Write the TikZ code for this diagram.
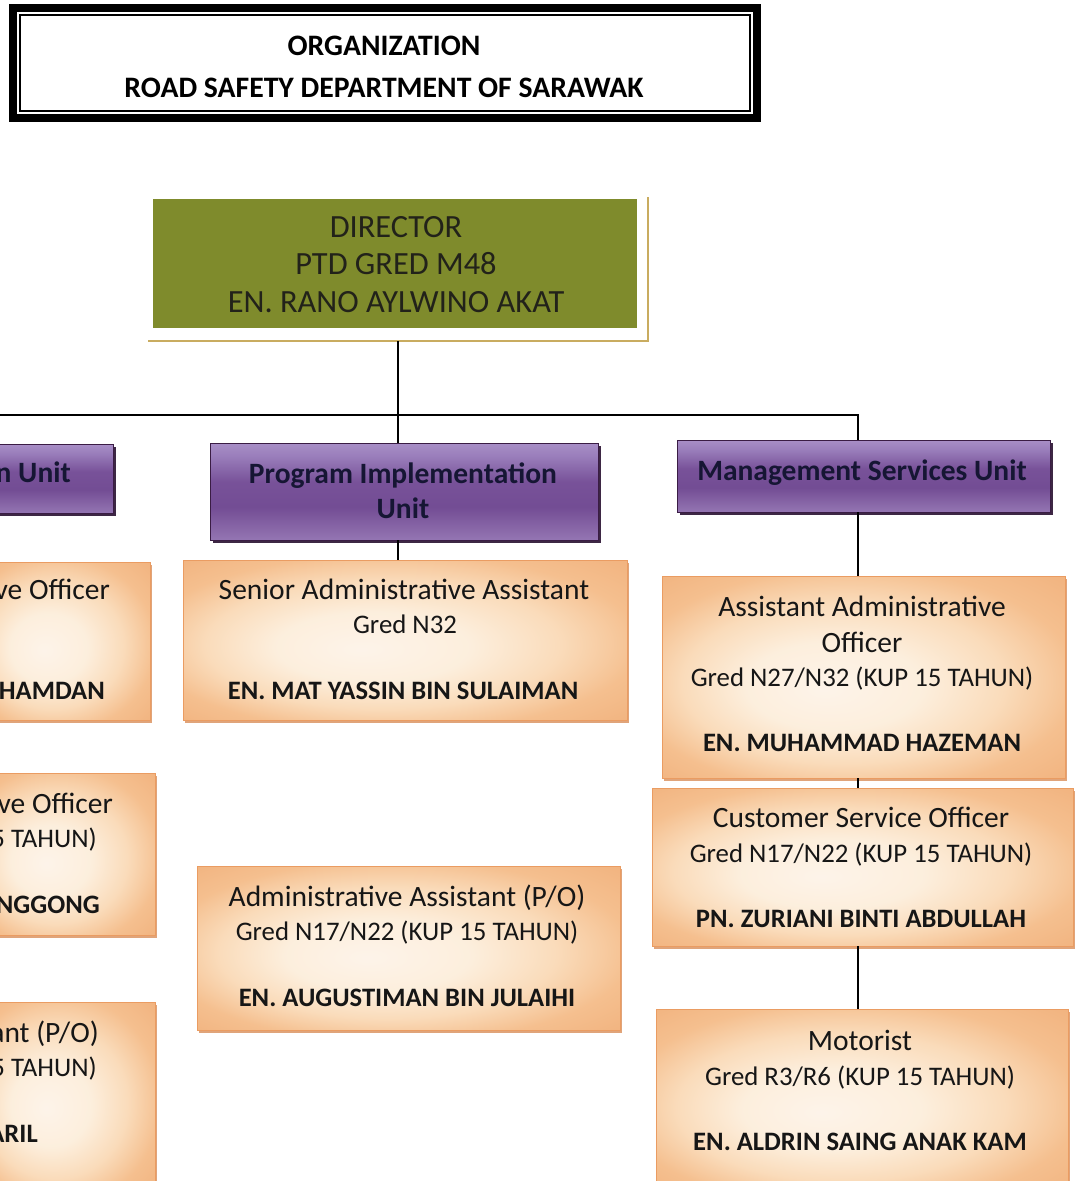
\documentclass[tikz,border=0pt]{standalone}
\usepackage{fontspec}
\setmainfont{Carlito}
\usetikzlibrary{shadows,calc}
\definecolor{dirgreen}{RGB}{127,139,44}
\definecolor{gold}{RGB}{201,172,96}
\definecolor{cardedge}{RGB}{234,156,98}
\definecolor{cardshadow}{RGB}{214,134,78}
\definecolor{unitedge}{RGB}{58,28,68}
\definecolor{unitshadow}{RGB}{40,16,48}
\definecolor{unittext}{RGB}{22,22,52}
\definecolor{ink}{RGB}{22,22,22}
\definecolor{dirink}{RGB}{34,34,26}
\pgfdeclareradialshading{cardshade}{\pgfpoint{-5bp}{-3bp}}{rgb(0bp)=(0.992,0.955,0.915); rgb(11bp)=(0.99,0.935,0.865); rgb(20bp)=(0.98,0.86,0.73); rgb(28bp)=(0.96,0.75,0.56); rgb(40bp)=(0.94,0.68,0.47)}
\pgfdeclareverticalshading{unitshade}{100bp}{rgb(0bp)=(0.58,0.46,0.70); rgb(25bp)=(0.58,0.46,0.70); rgb(42bp)=(0.45,0.30,0.58); rgb(55bp)=(0.47,0.32,0.60); rgb(68bp)=(0.60,0.49,0.73); rgb(75bp)=(0.66,0.56,0.78); rgb(100bp)=(0.66,0.56,0.78)}
\tikzset{
  box/.style={anchor=north west, inner sep=0pt, outer sep=0pt},
  card/.style={box, shade, shading=cardshade, draw=cardedge, line width=0.8pt,
    drop shadow={shadow xshift=2pt, shadow yshift=-2.5pt, fill=cardshadow, opacity=0.75}},
  unitbox/.style={box, shade, shading=unitshade, draw=unitedge, line width=0.8pt,
    drop shadow={shadow xshift=3pt, shadow yshift=-3pt, fill=unitshadow, opacity=0.9}},
  dirbox/.style={box, fill=dirgreen},
  tone/.style={anchor=mid, yshift=-7pt, font=\fontsize{29.5}{34}\selectfont, text=ink, inner sep=0pt},
  ttwo/.style={tone, font=\fontsize{26.8}{31}\selectfont},
  tname/.style={tone, font=\fontsize{26.6}{31}\selectfont\bfseries},
  tunit/.style={anchor=mid, yshift=-7pt, font=\fontsize{29.5}{34}\selectfont\bfseries, text=unittext, inner sep=0pt},
  tdir/.style={anchor=mid, yshift=-7pt, font=\fontsize{32.4}{37}\selectfont, text=dirink, inner sep=0pt},
  ttitle/.style={anchor=mid, yshift=-7pt, font=\fontsize{29.7}{34}\selectfont\bfseries, text=black, inner sep=0pt},
  conn/.style={draw=black, line width=1.4pt},
}
\begin{document}
\begin{tikzpicture}[x=1pt,y=-1pt]
\useasboundingbox (0,0) rectangle (1078,1181);
\clip (0,0) rectangle (1078,1181);
\fill[white] (0,0) rectangle (1078,1181);

% title
\node[box, fill=black, minimum width=752pt, minimum height=118pt] (titleouter) at (9,4) {};
\node[box, fill=white, minimum width=736pt, minimum height=102pt] (titleinner) at (17,12) {};
\node[box, draw=black, line width=1.6pt, minimum width=730pt, minimum height=96pt] (titleline) at (20,15) {};
\node[ttitle] (title1) at (384,46) {ORGANIZATION};
\node[ttitle] (title2) at (384,88) {ROAD SAFETY DEPARTMENT OF SARAWAK};

% hub coordinates
\coordinate (hubL) at (0,415);
\coordinate (trunk) at (398,415);
\coordinate (msux) at (858,415);

% director
\node[dirbox, minimum width=484pt, minimum height=129pt] (dir) at (153,199) {};
\coordinate (goldA) at (148,341);
\coordinate (goldB) at (648,341);
\coordinate (goldC) at (648,197);
\draw[gold, line width=2pt] (goldA) -- (goldB) -- (goldC);
\node[tdir] (dir1) at (396,228) {DIRECTOR};
\node[tdir] (dir2) at (396,265) {PTD GRED M48};
\node[tdir] (dir3) at (396,303) {EN. RANO AYLWINO AKAT};

% units
\node[unitbox, minimum width=140pt, minimum height=69pt] (unitL) at (-27,444) {};
\node[tunit, anchor=mid east] (unitLt) at (71,473) {n Unit};
\node[unitbox, minimum width=388pt, minimum height=97pt] (piu) at (210,443) {};
\node[tunit] (piu1) at (403,474) {Program Implementation};
\node[tunit] (piu2) at (403,509) {Unit};
\node[unitbox, minimum width=373pt, minimum height=72pt] (msu) at (677,440) {};
\node[tunit] (msu1) at (862,471) {Management Services Unit};

% cards: program implementation
\node[card, minimum width=444pt, minimum height=160pt] (sa) at (183,560) {};
\node[tone] (sa1) at (404,590) {Senior Administrative Assistant};
\node[ttwo] (sa2) at (405,624) {Gred N32};
\node[tname] (sa3) at (403,690) {EN. MAT YASSIN BIN SULAIMAN};

\node[card, minimum width=423pt, minimum height=164pt] (aa) at (197,866) {};
\node[tone] (aa1) at (407,897) {Administrative Assistant (P/O)};
\node[ttwo] (aa2) at (407,931) {Gred N17/N22 (KUP 15 TAHUN)};
\node[tname] (aa3) at (407,997) {EN. AUGUSTIMAN BIN JULAIHI};

% cards: management services
\node[card, minimum width=403pt, minimum height=202pt] (ma) at (662,576) {};
\node[tone] (ma1) at (862,607) {Assistant Administrative};
\node[tone] (ma2) at (862,643) {Officer};
\node[ttwo] (ma3) at (862,677) {Gred N27/N32 (KUP 15 TAHUN)};
\node[tname] (ma4) at (862,742) {EN. MUHAMMAD HAZEMAN};

\node[card, minimum width=421pt, minimum height=158pt] (mb) at (652,788) {};
\node[tone] (mb1) at (861,818) {Customer Service Officer};
\node[ttwo] (mb2) at (861,853) {Gred N17/N22 (KUP 15 TAHUN)};
\node[tname] (mb3) at (861,918) {PN. ZURIANI BINTI ABDULLAH};

\node[card, minimum width=412pt, minimum height=185pt] (mc) at (656,1009) {};
\node[tone] (mc1) at (860,1041) {Motorist};
\node[ttwo] (mc2) at (860,1076) {Gred R3/R6 (KUP 15 TAHUN)};
\node[tname] (mc3) at (860,1141) {EN. ALDRIN SAING ANAK KAM};

% cards: left column (cut off by the picture's edge)
\node[card, minimum width=177pt, minimum height=158pt] (la) at (-27,562) {};
\node[tone, anchor=mid east] (la1) at (110,590) {ve Officer};
\node[tname, anchor=mid east] (la2) at (105,690) {HAMDAN};

\node[card, minimum width=182pt, minimum height=162pt] (lb) at (-27,773) {};
\node[tone, anchor=mid east] (lb1) at (113,804) {ve Officer};
\node[ttwo, anchor=mid east] (lb2) at (97,838) {5 TAHUN)};
\node[tname, anchor=mid east] (lb3) at (100,904) {NGGONG};

\node[card, minimum width=182pt, minimum height=190pt] (lc) at (-27,1002) {};
\node[tone, anchor=mid east] (lc1) at (99,1033) {ant (P/O)};
\node[ttwo, anchor=mid east] (lc2) at (97,1067) {5 TAHUN)};
\node[tname, anchor=mid east] (lc3) at (38,1133) {ARIL};

% connector lines
\draw[conn] (goldA -| trunk) -- (trunk |- piu.north);
\draw[conn] (hubL) -- (msux) -- (msux |- msu.north);
\draw[conn] (trunk |- piu.south) -- (trunk |- sa.north);
\draw[conn] (msux |- msu.south) -- (msux |- ma.north);
\draw[conn] (msux |- ma.south) -- (msux |- mb.north);
\draw[conn] (msux |- mb.south) -- (msux |- mc.north);
\end{tikzpicture}
\end{document}
